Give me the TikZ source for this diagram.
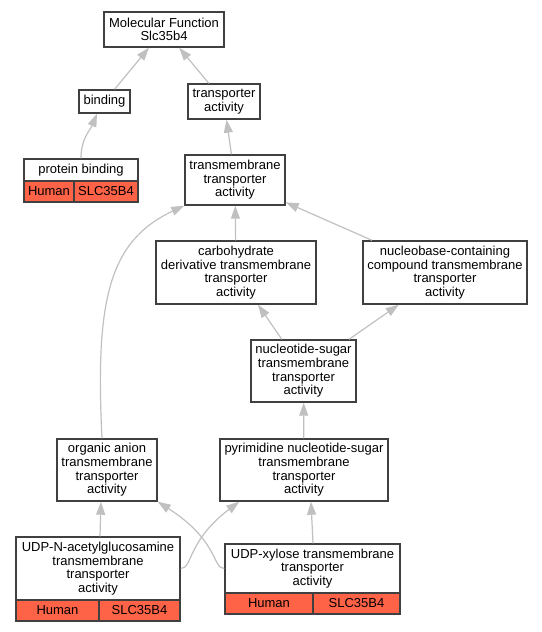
\documentclass[tikz,border=0pt]{standalone}
\usepackage{fontspec}
\setmainfont{Liberation Sans}
\usepackage{tikz}
\usetikzlibrary{positioning}
\usetikzlibrary{shapes.geometric, arrows.meta}
\definecolor{edgegray}{HTML}{C0C0C0}
\definecolor{boxline}{HTML}{404040}
\definecolor{tomato}{HTML}{FF6347}
\tikzset{
  term/.style={draw=boxline, line width=1.4pt, fill=white, rectangle, align=center, inner sep=1pt,
    font=\fontsize{13}{13.6}\selectfont},
  cell/.style={term, fill=tomato},
  isa/.style={draw=edgegray, line width=1.2pt, -{Triangle[length=13pt,width=9pt]}}
}

\begin{document}
\begin{tikzpicture}[x=1pt, y=-1pt]
\useasboundingbox (0,0) rectangle (541,632);
\node[term, minimum width=120pt, minimum height=35pt] (mf) at (164,29.5) {Molecular Function\\Slc35b4};
\node[term, minimum width=51pt, minimum height=23pt] (bind) at (104.5,101.5) {binding};
\node[term, minimum width=72pt, minimum height=35pt] (ta) at (224,101.5) {transporter\\activity};
\node[term, minimum width=114pt, minimum height=22pt] (pb) at (81,170) {protein binding};
\node[cell, minimum width=50pt, minimum height=21pt] (pbh) at (49,191.5) {Human};
\node[cell, minimum width=64pt, minimum height=21pt] (pbs) at (106,191.5) {SLC35B4};
\node[term, minimum width=100pt, minimum height=50pt] (tta) at (235,180) {transmembrane\\transporter\\activity};
\node[term, minimum width=160pt, minimum height=63pt] (carb) at (236,272.5) {carbohydrate\\derivative transmembrane\\transporter\\activity};
\node[term, minimum width=164pt, minimum height=63pt] (nucb) at (445,272.5) {nucleobase-containing\\compound transmembrane\\transporter\\activity};
\node[term, minimum width=105pt, minimum height=62pt] (nsug) at (303.5,371) {nucleotide-sugar\\transmembrane\\transporter\\activity};
\node[term, minimum width=100pt, minimum height=62pt] (oa) at (107,470) {organic anion\\transmembrane\\transporter\\activity};
\node[term, minimum width=168pt, minimum height=62pt] (pyr) at (304,470) {pyrimidine nucleotide-sugar\\transmembrane\\transporter\\activity};
\node[term, minimum width=164pt, minimum height=63pt] (udpn) at (98,568.5) {UDP-N-acetylglucosamine\\transmembrane\\transporter\\activity};
\node[cell, minimum width=83pt, minimum height=21pt] (udpnh) at (57.5,610.5) {Human};
\node[cell, minimum width=81pt, minimum height=21pt] (udpns) at (139.5,610.5) {SLC35B4};
\node[term, minimum width=175pt, minimum height=49pt] (udpx) at (312.5,568.5) {UDP-xylose transmembrane\\transporter\\activity};
\node[cell, minimum width=88pt, minimum height=21pt] (udpxh) at (269,603.5) {Human};
\node[cell, minimum width=87pt, minimum height=21pt] (udpxs) at (356.5,603.5) {SLC35B4};

\draw[isa] (bind) -- (mf);
\draw[isa] (ta) -- (mf);
\draw[isa] (pb.north) .. controls +(0,-20) and +(-7,17) .. ([xshift=-7.5pt]bind.south);
\draw[isa] (tta) -- (ta);
\draw[isa] (carb) -- (tta);
\draw[isa] (nucb) -- (tta);
\draw[isa] (nsug) -- (carb);
\draw[isa] (nsug) -- (nucb);
\draw[isa] (pyr) -- (nsug);
\draw[isa] ([xshift=-5pt]oa.north) .. controls +(-7,-139) and +(-75,35) .. (tta.south west);
\draw[isa] ([xshift=2pt]udpn.north) -- ([xshift=-6pt]oa.south);
\draw[isa] (udpn.east) .. controls +(12,0) and +(-52,39) .. ([xshift=20pt]pyr.south west);
\draw[isa] (udpx.west) .. controls +(-12,0) and +(61,39) .. (oa.south east);
\draw[isa] ([xshift=0.5pt]udpx.north) -- ([xshift=7pt]pyr.south);
\end{tikzpicture}
\end{document}
